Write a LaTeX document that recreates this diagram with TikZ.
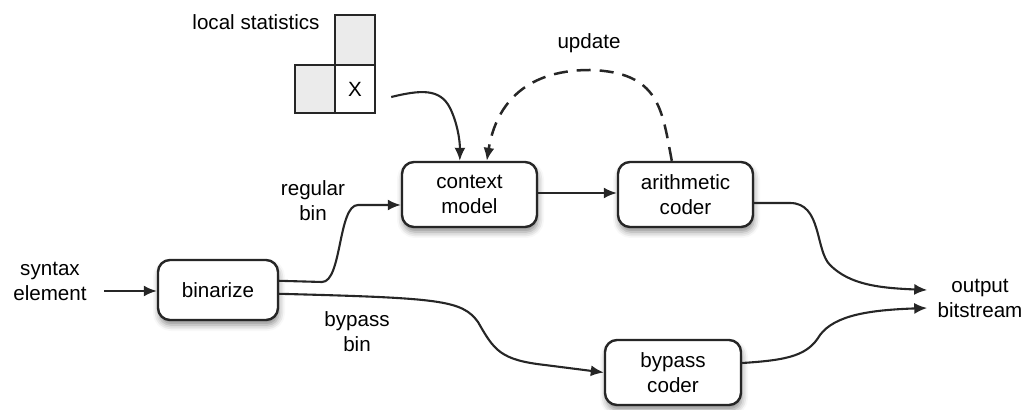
\documentclass[tikz,border=0pt]{standalone}
\usepackage{fontspec}
\setmainfont{Liberation Sans}
\usetikzlibrary{arrows.meta,shadows.blur,calc}

\tikzset{
  lbl/.style={font=\fontsize{10.3}{12.5}\selectfont, align=center, inner sep=0pt},
  blk/.style={lbl, draw=black!85, line width=1.2pt, fill=white, rounded corners=6pt,
    blur shadow={shadow xshift=0.5pt, shadow yshift=-2.5pt, shadow blur radius=3pt, shadow opacity=45}},
  cell/.style={draw=black!85, line width=1.2pt, inner sep=0pt, minimum width=20pt,
    minimum height=24pt, lbl},
  flow/.style={line width=1.05pt, draw=black!85, -{Latex[length=6.5pt,width=5.5pt]}},
  upd/.style={flow, dash pattern=on 7pt off 4.5pt, line width=1.25pt}
}

\begin{document}
\begin{tikzpicture}[x=0.5pt, y=-0.5pt]
  \useasboundingbox (0,0) rectangle (1026,410);

  % neighbourhood cells used for the local statistics
  \begin{scope}[blur shadow={shadow xshift=1pt, shadow yshift=-2.5pt, shadow blur radius=3pt, shadow opacity=40}]
    \node[cell, fill=black!8, minimum height=25pt] (ctop) at (355,40) {};
    \node[cell, fill=black!8] (cleft) at (315,89) {};
    \node[cell, fill=white] (cx) at (355,89) {X};
  \end{scope}
  \node[lbl] (ls) at (256,22) {local statistics};

  % processing blocks
  \node[blk, minimum width=60pt, minimum height=30pt] (bin) at (218,290) {binarize};
  \node[blk, minimum width=67.5pt, minimum height=32.5pt] (ctx) at (469.5,194.5) {context\\model};
  \node[blk, minimum width=67.5pt, minimum height=32.5pt] (ari) at (685.5,194.5) {arithmetic\\coder};
  \node[blk, minimum width=68pt, minimum height=32.5pt] (byp) at (673,372.5) {bypass\\coder};

  % free labels
  \node[lbl] (syn) at (50,281) {syntax\\element};
  \node[lbl] (out) at (980,298) {output\\bitstream};
  \node[lbl] (reg) at (313,201) {regular\\bin};
  \node[lbl] (bpb) at (357,332) {bypass\\bin};
  \node[lbl] (up) at (589,43) {update};

  % connectors
  \draw[flow] (syn.east |- bin.west) ++(17,1) -- ($(bin.west)+(0,1)$);

  \draw[flow] ($(bin.north east)+(0,22)$) -- (322,282)
    .. controls (342,282) and (338,205) .. (358,205) -- ($(ctx.west)+(0,10.5)$);

  \draw[flow] ($(bin.north east)+(0,35)$)
    .. controls (440,298) and (462,300) .. (478,322)
    .. controls (494,350) and (500,360) .. (545,365) -- (byp.west);

  \draw[flow] ($(ctx.east)+(0,-1.5)$) -- ($(ari.west)+(0,-1.5)$);

  \draw[flow] ($(ari.east)+(0,8.5)$) -- (790,203)
    .. controls (822,203) and (815,250) .. (830,265)
    .. controls (850,285) and (880,288) .. ($(out.west)+(-10,-8)$);

  \draw[flow] ($(byp.east)+(0,-9.5)$)
    .. controls (790,360) and (808,355) .. (820,335)
    .. controls (835,315) and (870,310) .. ($(out.west)+(-10,10)$);

  \draw[flow] ($(cx.east)+(15,8)$)
    .. controls (420,90) and (440,88) .. (450,108)
    .. controls (457,122) and (460,140) .. ($(ctx.north west)+(59,0)$);

  \draw[upd] ($(ari.north west)+(55,0)$)
    .. controls (662,110) and (660,72) .. (590,70)
    .. controls (520,70) and (495,110) .. ($(ctx.north west)+(86,0)$);
\end{tikzpicture}
\end{document}
